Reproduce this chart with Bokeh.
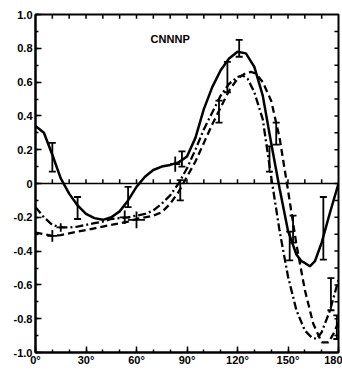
import numpy as np
from bokeh.plotting import figure
from bokeh.models import (Range1d, FixedTicker, Span, Label,
                          ColumnDataSource, Whisker, TeeHead)
from bokeh.embed import file_html
from bokeh.resources import INLINE

# --- curves: angle (deg) and value -------------------------------------
ang_solid = [0, 5, 10, 15, 20, 25, 30, 35, 40, 45, 50, 55, 60, 65, 70, 75, 80, 85, 90,
             95, 100, 105, 110, 115, 120, 125, 130, 135, 140, 145, 150, 155, 158, 160,
             163, 166, 170, 175, 180]
val_solid = [0.34, 0.30, 0.17, 0.03, -0.06, -0.13, -0.18, -0.205, -0.215, -0.20, -0.165,
             -0.10, -0.02, 0.04, 0.08, 0.10, 0.11, 0.125, 0.16, 0.27, 0.44, 0.57, 0.67,
             0.74, 0.78, 0.77, 0.69, 0.52, 0.24, -0.03, -0.28, -0.42, -0.46, -0.47,
             -0.49, -0.46, -0.35, -0.17, 0.0]

ang_dash = [0, 5, 10, 15, 20, 25, 30, 35, 40, 45, 50, 55, 60, 65, 70, 75, 80, 85, 90, 95,
            100, 105, 110, 115, 120, 125, 128, 131, 135, 140, 145, 150, 155, 160, 165,
            170, 174, 177, 180]
val_dash = [-0.29, -0.30, -0.31, -0.305, -0.295, -0.285, -0.275, -0.265, -0.255, -0.245,
            -0.235, -0.225, -0.21, -0.20, -0.19, -0.17, -0.12, -0.05, 0.04, 0.13, 0.24,
            0.35, 0.45, 0.55, 0.62, 0.655, 0.66, 0.65, 0.60, 0.49, 0.27, -0.04, -0.36,
            -0.63, -0.83, -0.94, -0.94, -0.89, -0.82]

ang_dd = [0, 5, 10, 15, 20, 25, 30, 35, 40, 45, 50, 55, 60, 65, 70, 75, 80, 85, 90, 95,
          100, 105, 110, 115, 120, 123, 126, 130, 135, 140, 145, 150, 155, 160, 164, 167,
          170, 175, 180]
val_dd = [-0.14, -0.20, -0.245, -0.26, -0.26, -0.255, -0.245, -0.235, -0.225, -0.21,
          -0.205, -0.20, -0.19, -0.18, -0.16, -0.12, -0.07, 0.0, 0.09, 0.20, 0.32, 0.42,
          0.52, 0.59, 0.63, 0.64, 0.62, 0.54, 0.38, 0.04, -0.28, -0.55, -0.75, -0.87,
          -0.91, -0.92, -0.88, -0.75, -0.57]

# --- measured points with vertical error bars (capped) -------------------
eb_x = [10, 25, 55, 87, 86, 109, 114, 121, 139, 143, 151, 153, 171, 175.5, 179]
eb_y = [0.155, -0.145, -0.08, 0.145, -0.04, 0.425, 0.63, 0.80, 0.145, 0.295, -0.37,
        -0.27, -0.265, -0.655, -0.85]
eb_err = [0.085, 0.065, 0.06, 0.045, 0.06, 0.065, 0.09, 0.05, 0.075, 0.065, 0.085,
          0.08, 0.185, 0.095, 0.07]

# --- measured points with angular and vertical bars ("+" marks) ----------
pb_x = [10, 15, 53, 60, 83]
pb_y = [-0.31, -0.26, -0.20, -0.215, 0.115]
pb_ey = [0.035, 0.025, 0.04, 0.05, 0.045]
pb_ex = [3, 2.5, 3, 5, 3]

# --- axis ticks ----------------------------------------------------------
x_major = [0, 30, 60, 90, 120, 150, 180]
x_labels = ["0°", "30°", "60°", "90°", "120°", "150°", "180"]
x_minor = list(range(0, 181, 10))
y_major = [-1.0, -0.8, -0.6, -0.4, -0.2, 0, 0.2, 0.4, 0.6, 0.8, 1.0]
y_labels = ["-1.0", "-0.8", "-0.6", "-0.4", "-0.2", "0", "0.2", "0.4", "0.6", "0.8", "1.0"]
y_minor = [round(-1.0 + 0.1 * i, 1) for i in range(21)]
zero_ticks = list(range(10, 180, 10))
top_ticks = list(range(10, 180, 10))
right_ticks = [round(-0.9 + 0.1 * i, 1) for i in range(19)]

FONT = "Liberation Sans"

p = figure(width=342, height=370, x_range=Range1d(0, 180), y_range=Range1d(-1.0, 1.0),
           output_backend="svg", toolbar_location=None,
           min_border_left=35, min_border_right=4, min_border_top=14, min_border_bottom=18)
p.grid.visible = False
p.outline_line_color = "black"
p.outline_line_width = 2
p.background_fill_color = "white"


def style_axis(ax):
    ax.axis_line_width = 2
    ax.axis_line_color = "black"
    ax.major_tick_in = 6
    ax.major_tick_out = 0
    ax.minor_tick_in = 3
    ax.minor_tick_out = 0
    ax.major_tick_line_width = 1.5
    ax.minor_tick_line_width = 1.5
    ax.major_tick_line_color = "black"
    ax.minor_tick_line_color = "black"
    ax.major_label_text_font = FONT
    ax.major_label_text_font_style = "bold"
    ax.major_label_text_font_size = "11px"
    ax.major_label_text_color = "black"
    ax.major_label_standoff = 3


xa = p.xaxis[0]
xa.ticker = FixedTicker(ticks=x_major, minor_ticks=x_minor)
xa.major_label_overrides = {t: l for t, l in zip(x_major, x_labels)}
style_axis(xa)
xa.major_label_standoff = 1

ya = p.yaxis[0]
ya.ticker = FixedTicker(ticks=y_major, minor_ticks=y_minor)
ya.major_label_overrides = {t: l for t, l in zip(y_major, y_labels)}
style_axis(ya)

# inward ticks on the top and right frame edges
n_top = len(top_ticks)
p.segment(x0=top_ticks, y0=[1.0] * n_top, x1=top_ticks, y1=[0.975] * n_top,
          line_color="black", line_width=1.5)
n_right = len(right_ticks)
p.segment(x0=[180] * n_right, y0=right_ticks, x1=[177.6] * n_right, y1=right_ticks,
          line_color="black", line_width=1.5)

# zero line with its small upward ticks
p.add_layout(Span(location=0, dimension="width", line_color="black", line_width=1.5))
p.segment(x0=zero_ticks, y0=[0] * len(zero_ticks), x1=zero_ticks,
          y1=[0.025] * len(zero_ticks), line_color="black", line_width=1.5)

# model curves
p.line(ang_solid, val_solid, line_color="black", line_width=2.5)
p.line(ang_dash, val_dash, line_color="black", line_width=2.3, line_dash="7 4")
p.line(ang_dd, val_dd, line_color="black", line_width=2.3, line_dash="8 3 2 3")

# capped vertical error bars
eb_y_arr = np.array(eb_y)
eb_e_arr = np.array(eb_err)
eb_src = ColumnDataSource(dict(x=eb_x, lo=eb_y_arr - eb_e_arr, hi=eb_y_arr + eb_e_arr))
p.add_layout(Whisker(source=eb_src, base="x", lower="lo", upper="hi", dimension="height",
                     line_color="black", line_width=1.8,
                     upper_head=TeeHead(size=7, line_width=1.8, line_color="black"),
                     lower_head=TeeHead(size=7, line_width=1.8, line_color="black")))

# cross-shaped bars
pb_x_arr = np.array(pb_x, dtype=float)
pb_y_arr = np.array(pb_y)
pb_src_v = ColumnDataSource(dict(x=pb_x, lo=pb_y_arr - np.array(pb_ey),
                                 hi=pb_y_arr + np.array(pb_ey)))
pb_src_h = ColumnDataSource(dict(y=pb_y, lo=pb_x_arr - np.array(pb_ex),
                                 hi=pb_x_arr + np.array(pb_ex)))
p.add_layout(Whisker(source=pb_src_v, base="x", lower="lo", upper="hi", dimension="height",
                     line_color="black", line_width=1.8, upper_head=None, lower_head=None))
p.add_layout(Whisker(source=pb_src_h, base="y", lower="lo", upper="hi", dimension="width",
                     line_color="black", line_width=1.8, upper_head=None, lower_head=None))

p.add_layout(Label(x=80, y=0.855, text="CNNNP", text_align="center", text_baseline="middle",
                   text_font=FONT, text_font_style="bold", text_font_size="11px",
                   text_color="black"))

open("out.html", "w").write(file_html(p, INLINE))
